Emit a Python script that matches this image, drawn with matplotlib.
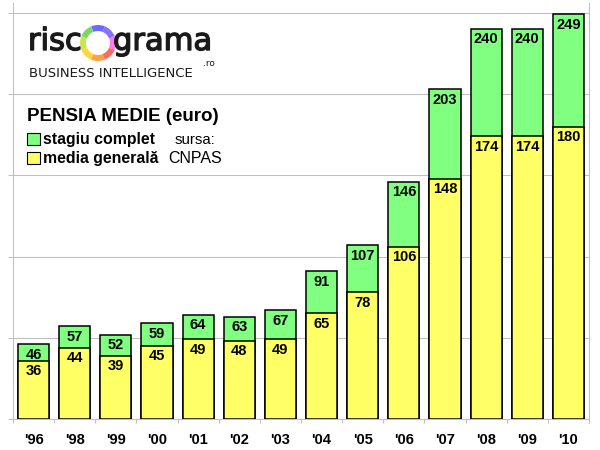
"""Pensia medie (euro) - overlapping bars, riscograma style."""

import matplotlib

matplotlib.use("Agg")
import matplotlib.patheffects as pe
import matplotlib.pyplot as plt
import numpy as np
from matplotlib.patches import Rectangle, Wedge

W, H = 600, 450

years = ["'96", "'98", "'99", "'00", "'01", "'02", "'03", "'04", "'05", "'06", "'07", "'08", "'09", "'10"]
stagiu_complet = [46, 57, 52, 59, 64, 63, 67, 91, 107, 146, 203, 240, 240, 249]
media_generala = [36, 44, 39, 45, 49, 48, 49, 65, 78, 106, 148, 174, 174, 180]

GREEN = "#80ff80"
YELLOW = "#ffff66"
GRID = "#c0c0c0"
INK = "#1a1a1a"
NARROW = ["Liberation Sans Narrow", "Liberation Sans", "DejaVu Sans"]
ARIAL = ["Liberation Sans", "DejaVu Sans"]

# ring of the logo, colours going counter-clockwise from 0 degrees
ring_colors = ["#ff7cf0", "#8a70ff", "#6a6aff", "#7ad86a", "#c8e650", "#ffd640", "#ffa044", "#ff6a5a"]


def fx(x):
    return x / W


def fy(y):
    return 1 - y / H


fig = plt.figure(figsize=(W / 100, H / 100), dpi=100)

ax = fig.add_axes([fx(13), fy(419), fx(576), 416 / H])
pos = np.arange(len(years))
ax.bar(pos, stagiu_complet, width=0.755, color=GREEN, edgecolor="black", linewidth=1.1, zorder=2)
ax.bar(pos, media_generala, width=0.755, color=YELLOW, edgecolor="black", linewidth=1.1, zorder=3)

for i, (s, m) in enumerate(zip(stagiu_complet, media_generala)):
    for v in (s, m):
        ax.annotate(str(v), (i, v), xytext=(0, -7.5), textcoords="offset points",
                    ha="center", va="center", fontsize=10.5, fontweight="bold",
                    family=NARROW, zorder=4)

ax.set_xlim(-0.5, len(years) - 0.5)
ax.set_ylim(0, 256)
ax.set_yticks(range(0, 251, 50))
ax.set_yticklabels([])
ax.yaxis.grid(True, color=GRID, linewidth=0.75)
ax.set_axisbelow(True)
ax.spines["top"].set_visible(False)
for side in ("left", "right", "bottom"):
    ax.spines[side].set_color(GRID)
    ax.spines[side].set_linewidth(0.75)
ax.tick_params(axis="y", length=3.6, width=0.75, color=GRID, direction="out")

ax.set_xticks(pos)
ax.set_xticklabels(years, fontsize=10.5, fontweight="bold", family=NARROW)
ax.tick_params(axis="x", which="major", length=0, pad=10)
ax.set_xticks(np.arange(-0.5, len(years), 1), minor=True)
ax.tick_params(axis="x", which="minor", length=3, width=0.75, color=GRID)

# logo drawn in pixel coordinates
logo = fig.add_axes([0, 0, 1, 1])
logo.set_xlim(0, W)
logo.set_ylim(0, H)
logo.axis("off")
logo.patch.set_visible(False)
step = 360 / len(ring_colors)
for k, c in enumerate(ring_colors):
    logo.add_patch(Wedge((98, H - 43), 18, k * step - step / 2, k * step + step / 2,
                         width=6, facecolor=c, linewidth=0))
thicker = [pe.withStroke(linewidth=1.0, foreground=INK)]
fig.text(fx(28), fy(50), "risc", fontsize=22, color=INK, family="DejaVu Sans",
         va="baseline", path_effects=thicker)
fig.text(fx(113), fy(50), "grama", fontsize=22, color=INK, family="DejaVu Sans",
         va="baseline", path_effects=thicker)
fig.text(fx(203), fy(66), ".ro", fontsize=6.5, color=INK, family="DejaVu Sans", va="baseline")
fig.text(fx(29), fy(77), "BUSINESS INTELLIGENCE", fontsize=9.5, color=INK,
         family="DejaVu Sans", va="baseline")

# title and legend
fig.text(fx(27), fy(121), "PENSIA MEDIE (euro)", fontsize=13.5, fontweight="bold",
         family=ARIAL, va="baseline")
fig.add_artist(Rectangle((fx(27), fy(145)), fx(13), 12 / H, transform=fig.transFigure,
                         facecolor=GREEN, edgecolor="black", linewidth=0.8))
fig.add_artist(Rectangle((fx(27), fy(164)), fx(13), 12 / H, transform=fig.transFigure,
                         facecolor=YELLOW, edgecolor="black", linewidth=0.8))
fig.text(fx(43), fy(144), "stagiu complet", fontsize=11.4, fontweight="bold", family=ARIAL, va="baseline")
fig.text(fx(43), fy(163), "media generală", fontsize=11.4, fontweight="bold", family=ARIAL, va="baseline")
fig.text(fx(175), fy(144), "sursa:", fontsize=10.8, family=ARIAL, va="baseline")
fig.text(fx(168), fy(163), "CNPAS", fontsize=11.5, family=ARIAL, va="baseline")

fig.savefig("out.png", dpi=100)
